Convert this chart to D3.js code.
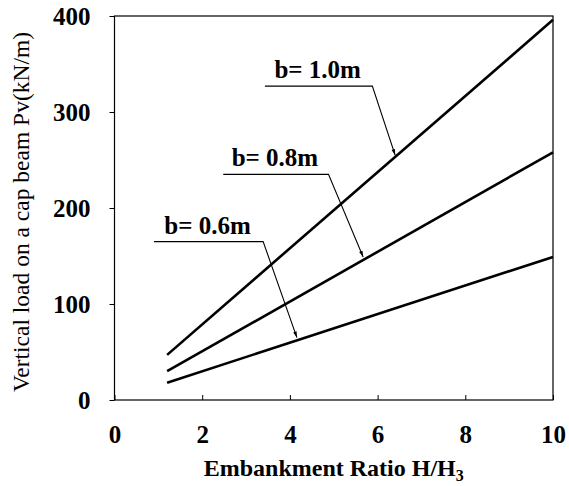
<!DOCTYPE html>
<html><head><meta charset="utf-8">
<script src="https://cdn.jsdelivr.net/npm/d3@7"></script>
</head><body style="margin:0;background:#fff">
<svg id="c" width="569" height="486"></svg>
<script>
const xTicks = [0, 2, 4, 6, 8, 10];
const yTicks = [0, 100, 200, 300, 400];
const seriesNames = ["b= 1.0m", "b= 0.8m", "b= 0.6m"];
const xValues = [1.2, 10];
const b10 = [47, 396];
const b08 = [30, 258];
const b06 = [18, 149];
// annotation: label line start x, corner (x,y), arrow tip (x,y)
const annStartX = [3.43, 2.48, 0.9];
const annCornerX = [5.88, 4.88, 3.39];
const annCornerY = [327, 235, 165];
const annTipX = [6.4, 5.67, 4.16];
const annTipY = [255, 149, 65];

const FONT = "'Liberation Serif'";
const svg = d3.select("#c").style("font-family", FONT);
const m = {l: 114.5, r: 553, t: 16, b: 400};
const x = d3.scaleLinear().domain([0, 10]).range([m.l, m.r]);
const y = d3.scaleLinear().domain([0, 400]).range([m.b, m.t]);

svg.append("defs").append("marker").attr("id", "arr")
  .attr("viewBox", "0 0 10 10").attr("refX", 10).attr("refY", 5)
  .attr("markerWidth", 12).attr("markerHeight", 6).attr("orient", "auto")
  .attr("markerUnits", "userSpaceOnUse")
  .append("path").attr("d", "M0,2 L10,5 L0,8 Z").attr("fill", "#000");

svg.append("rect").attr("x", m.l).attr("y", m.t).attr("width", m.r - m.l).attr("height", m.b - m.t)
  .attr("fill", "none").attr("stroke", "#000").attr("stroke-width", 1.2);

const ya = svg.append("g").attr("transform", `translate(${m.l},0)`)
  .call(d3.axisLeft(y).tickValues(yTicks).tickSize(5).tickPadding(19));
const xa = svg.append("g").attr("transform", `translate(0,${m.b})`)
  .call(d3.axisBottom(x).tickValues(xTicks).tickSize(-5).tickPadding(25));
[ya, xa].forEach(a => {
  a.attr("font-family", null).attr("font-size", null);
  a.select(".domain").remove();
  a.selectAll("line").attr("stroke", "#000");
  a.selectAll("text").style("font-family", FONT).attr("font-size", 25)
    .attr("font-weight", "bold").attr("fill", "#000");
});

const data = [b10, b08, b06];
const line = d3.line().x((d, i) => x(xValues[i])).y(d => y(d));
data.forEach(s => {
  svg.append("path").datum(s).attr("d", line).attr("fill", "none")
    .attr("stroke", "#000").attr("stroke-width", 2.6);
});

seriesNames.forEach((nm, i) => {
  const yy = y(annCornerY[i]);
  svg.append("path")
    .attr("d", `M${x(annStartX[i])},${yy} L${x(annCornerX[i])},${yy} L${x(annTipX[i])},${y(annTipY[i])}`)
    .attr("fill", "none").attr("stroke", "#000").attr("stroke-width", 1.1)
    .attr("marker-end", "url(#arr)");
  svg.append("text").attr("x", (x(annStartX[i]) + x(annCornerX[i])) / 2 - 1).attr("y", yy - 8)
    .attr("text-anchor", "middle").style("font-family", FONT).attr("font-size", 25)
    .attr("font-weight", "bold").text(nm);
});

svg.append("text").attr("x", (m.l + m.r) / 2).attr("y", 476).attr("text-anchor", "middle")
  .style("font-family", FONT).attr("font-size", 24).attr("font-weight", "bold")
  .text("Embankment Ratio H/H").append("tspan").attr("font-size", 16).attr("dy", 5).text("3");

svg.append("text").attr("transform", `translate(29,${(m.t + m.b) / 2 + 4}) rotate(-90)`)
  .attr("text-anchor", "middle").style("font-family", FONT).attr("font-size", 23.5)
  .text("Vertical load on a cap beam Pv(kN/m)");
</script>
</body></html>
